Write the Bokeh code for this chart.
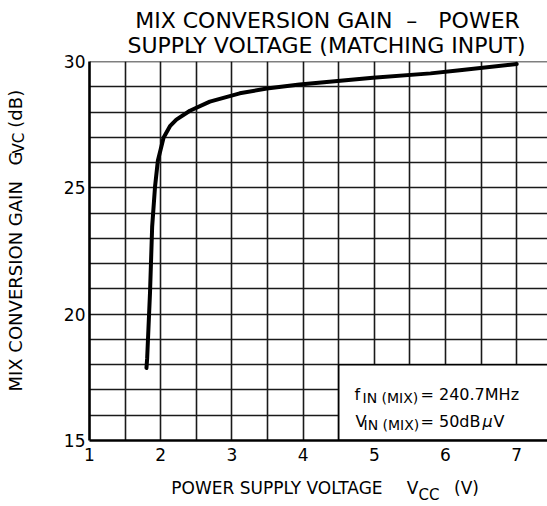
from bokeh.plotting import figure
from bokeh.models import FixedTicker, Label, Span, Range1d, LinearAxis
from bokeh.embed import file_html
from bokeh.resources import INLINE

# Data
vcc = [1.80, 1.81, 1.85, 1.88, 1.92, 1.96, 2.00, 2.04, 2.13, 2.22, 2.41, 2.69, 3.11, 3.49, 3.95, 4.98, 5.79, 6.20, 7.00]
gvc = [17.87, 18.26, 20.86, 23.46, 25.03, 26.07, 26.53, 26.98, 27.44, 27.70, 28.05, 28.41, 28.74, 28.93, 29.09, 29.36, 29.53, 29.65, 29.90]

x_ticks = [1, 2, 3, 4, 5, 6, 7]
y_ticks = [15, 20, 25, 30]
x_grid = [1, 1.5, 2, 2.5, 3, 3.5, 4, 4.5, 5, 5.5, 6, 6.5, 7]
y_grid = list(range(15, 31))

NB = "\u00a0"
title_lines = ["MIX CONVERSION GAIN" + NB * 2 + "\u2013" + NB * 3 + "POWER",
               "SUPPLY VOLTAGE (MATCHING INPUT)"]
x_label_parts = ["POWER SUPPLY VOLTAGE", "V", "(V)"]
x_label_sub = "CC"
y_label_parts = ["MIX CONVERSION GAIN", "G", "(dB)"]
y_label_sub = "VC"
note_lines = [("f", "IN (MIX)", "= 240.7MHz"), ("V", "IN (MIX)", "= 50dB", "\u03bc", "V")]

FONT = "DejaVu Sans"

W, H = 547, 506
FL, FT, FB = 89, 61, 64
PXV, PXD = 71.2, 25.4   # pixels per volt / per dB


def vx(px):  # page pixel -> volts (used only to anchor text pieces)
    return round(1 + (px - FL) / PXV, 3)


def gy(py):  # page pixel -> dB
    return round(15 + ((H - FB) - py) / PXD, 3)


p = figure(width=W, height=H, output_backend="svg", toolbar_location=None,
           x_range=Range1d(1, 1 + (W - FL) / PXV), y_range=Range1d(15, 30),
           min_border=0)
p.min_border_left = FL
p.min_border_top = FT
p.min_border_bottom = FB
p.min_border_right = 0
p.outline_line_color = None
p.background_fill_color = "white"
p.border_fill_color = "white"

# grid
p.xgrid.ticker = FixedTicker(ticks=x_grid)
p.ygrid.ticker = FixedTicker(ticks=y_grid)
for g in (p.xgrid, p.ygrid):
    g.grid_line_color = "#1a1a1a"
    g.grid_line_width = 1.6

# axes
for ax in (p.xaxis, p.yaxis):
    ax.axis_line_width = 2.6
    ax.axis_line_color = "black"
    ax.major_tick_line_color = None
    ax.minor_tick_line_color = None
    ax.major_tick_out = 0
    ax.major_tick_in = 0
    ax.minor_tick_out = 0
    ax.minor_tick_in = 0
    ax.major_label_text_font = FONT
    ax.major_label_text_font_size = "17px"
    ax.major_label_text_color = "black"
p.xaxis.ticker = FixedTicker(ticks=x_ticks)
p.yaxis.ticker = FixedTicker(ticks=y_ticks)
p.xaxis.major_label_standoff = 7
p.yaxis.major_label_standoff = 4


def text_axis(side, positions, texts, size, standoff, orientation="horizontal"):
    ax = LinearAxis(ticker=FixedTicker(ticks=positions),
                    major_label_overrides={pos: t for pos, t in zip(positions, texts)},
                    axis_line_color=None, major_tick_line_color=None,
                    minor_tick_line_color=None,
                    major_tick_out=0, major_tick_in=0,
                    minor_tick_out=0, minor_tick_in=0,
                    major_label_text_font=FONT,
                    major_label_text_font_size=f"{size}px",
                    major_label_text_color="black",
                    major_label_standoff=standoff,
                    major_label_orientation=orientation)
    p.add_layout(ax, side)
    return ax


# title (two lines, as text rows above the frame)
text_axis("above", [vx(326)], [title_lines[1]], 22, 4)
text_axis("above", [vx(327)], [title_lines[0]], 22, -3)

# x axis label with subscript
text_axis("below", [vx(276.5), vx(412), vx(466)], x_label_parts, 17, 14)
text_axis("below", [vx(428.5)], [x_label_sub], 15, -15)

# y axis label with subscript
text_axis("left", [gy(287), gy(158.5), gy(108.5)], y_label_parts, 18, 34, "parallel")
text_axis("left", [gy(143)], [y_label_sub], 15, -26, "parallel")

# top border line
p.add_layout(Span(location=30, dimension="width", line_color="black", line_width=1.6))

# annotation box
p.quad(left=[4.5], right=[8.0], bottom=[15], top=[18], fill_color="white",
       line_color="black", line_width=1.6)

# curve
p.line(vcc, gvc, line_color="black", line_width=4, line_join="round", line_cap="round")


def lab(px, py, text, size, style="normal"):
    p.add_layout(Label(x=px - FL, y=(H - FB) - py, x_units="screen", y_units="screen",
                       text=text, text_font=FONT, text_font_size=f"{size}px",
                       text_align="left", text_baseline="alphabetic",
                       text_color="black", text_font_style=style))


# annotation texts
l1, l2 = note_lines
lab(354, 396, l1[0], 16)
lab(362, 399, l1[1], 14)
lab(420, 396, l1[2], 16)
lab(355, 423, l2[0], 16)
lab(363, 426, l2[1], 14)
lab(420, 423, l2[2], 16)
lab(482, 423, l2[3], 16, style="italic")
lab(493, 423, l2[4], 16)

open("out.html", "w").write(file_html(p, INLINE))
